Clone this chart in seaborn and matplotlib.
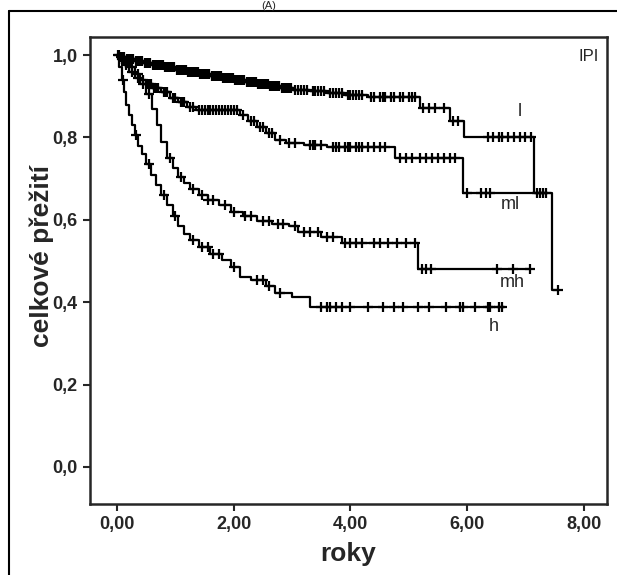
import numpy as np
import pandas as pd
import seaborn as sns
import matplotlib
matplotlib.use('Agg')
import matplotlib.pyplot as plt
from matplotlib.lines import Line2D

# skupiny IPI
groups = ['l', 'ml', 'mh', 'h']

# casy udalosti (roky) a preziti po kazde udalosti
l_times = [0.05, 0.15, 0.3, 0.45, 0.6, 0.8, 1.0, 1.2, 1.4, 1.6, 1.8, 2.0, 2.2, 2.4, 2.6, 2.8,
           3.0, 3.3, 3.6, 3.9, 4.3, 5.2, 5.7, 5.95, 7.15, 7.45]
l_surv = [0.995, 0.99, 0.985, 0.98, 0.975, 0.97, 0.965, 0.96, 0.955, 0.95, 0.945, 0.94, 0.935,
          0.93, 0.925, 0.92, 0.915, 0.912, 0.908, 0.904, 0.899, 0.871, 0.84, 0.80, 0.665, 0.43]
l_cens = [0.02, 0.06, 0.08, 0.1, 0.12, 0.17, 0.2, 0.22, 0.25, 0.27, 0.32, 0.35, 0.38, 0.4,
          0.43, 0.47, 0.5, 0.52, 0.55, 0.57, 0.62, 0.65, 0.68, 0.7, 0.72, 0.75, 0.78, 0.82,
          0.85, 0.88, 0.9, 0.93, 0.95, 0.98, 1.02, 1.05, 1.08, 1.1, 1.13, 1.15, 1.18, 1.22,
          1.25, 1.28, 1.3, 1.33, 1.35, 1.38, 1.42, 1.45, 1.48, 1.5, 1.53, 1.55, 1.58, 1.62,
          1.65, 1.68, 1.7, 1.73, 1.75, 1.78, 1.82, 1.85, 1.88, 1.9, 1.93, 1.95, 1.98, 2.02,
          2.05, 2.08, 2.1, 2.13, 2.15, 2.18, 2.22, 2.25, 2.28, 2.3, 2.33, 2.35, 2.38, 2.42,
          2.45, 2.48, 2.5, 2.53, 2.55, 2.58, 2.62, 2.65, 2.68, 2.7, 2.73, 2.75, 2.78, 2.82,
          2.85, 2.88, 2.9, 2.93, 2.95, 2.98, 3.05, 3.1, 3.15, 3.2, 3.25, 3.35, 3.4, 3.45,
          3.5, 3.55, 3.65, 3.7, 3.75, 3.8, 3.85, 3.95, 4.0, 4.05, 4.1, 4.15, 4.2, 4.35, 4.4,
          4.5, 4.55, 4.6, 4.7, 4.75, 4.85, 4.9, 5.0, 5.05, 5.1, 5.25, 5.35, 5.45, 5.6, 5.75,
          5.85, 6.35, 6.45, 6.55, 6.6, 6.7, 6.8, 6.9, 7.0, 7.1, 7.25, 7.35, 7.56]
l_end = 7.56

ml_times = [0.05, 0.1, 0.2, 0.3, 0.4, 0.5, 0.6, 0.75, 0.9, 1.05, 1.2, 1.35, 2.1, 2.25, 2.4,
            2.55, 2.7, 2.9, 3.2, 3.6, 4.77, 5.93]
ml_surv = [0.99, 0.98, 0.97, 0.955, 0.94, 0.93, 0.92, 0.91, 0.895, 0.885, 0.875, 0.867, 0.855,
           0.84, 0.825, 0.81, 0.795, 0.787, 0.782, 0.777, 0.75, 0.665]
ml_cens = [0.03, 0.08, 0.15, 0.25, 0.35, 0.45, 0.53, 0.55, 0.58, 0.63, 0.65, 0.68, 0.7, 0.8,
           0.83, 0.85, 0.95, 0.98, 1.0, 1.1, 1.13, 1.15, 1.25, 1.3, 1.4, 1.45, 1.5, 1.55, 1.6,
           1.65, 1.7, 1.75, 1.8, 1.85, 1.9, 1.95, 2.0, 2.05, 2.15, 2.3, 2.35, 2.45, 2.5, 2.6,
           2.65, 2.8, 2.95, 3.05, 3.3, 3.35, 3.4, 3.5, 3.7, 3.75, 3.8, 3.9, 3.95, 4.0, 4.1,
           4.15, 4.2, 4.3, 4.4, 4.5, 4.6, 4.85, 4.95, 5.05, 5.2, 5.3, 5.4, 5.5, 5.6, 5.7, 5.8,
           6.0, 6.23, 6.32, 6.4, 7.2, 7.3]
ml_end = 7.35

mh_times = [0.05, 0.12, 0.2, 0.3, 0.4, 0.5, 0.6, 0.68, 0.76, 0.85, 0.95, 1.05, 1.15, 1.25, 1.4,
            1.55, 1.75, 1.95, 2.15, 2.4, 2.65, 2.95, 3.1, 3.5, 3.85, 5.15]
mh_surv = [0.99, 0.975, 0.96, 0.945, 0.93, 0.905, 0.87, 0.83, 0.79, 0.75, 0.725, 0.705, 0.69,
           0.675, 0.66, 0.648, 0.635, 0.62, 0.61, 0.598, 0.59, 0.585, 0.57, 0.558, 0.544, 0.48]
mh_cens = [0.08, 0.15, 0.25, 0.35, 0.45, 0.55, 0.9, 1.1, 1.3, 1.45, 1.55, 1.65, 1.85, 2.0, 2.2,
           2.3, 2.5, 2.6, 2.75, 2.85, 3.05, 3.2, 3.3, 3.45, 3.6, 3.7, 3.9, 4.0, 4.1, 4.2, 4.4,
           4.5, 4.65, 4.8, 4.95, 5.1, 5.22, 5.3, 5.38, 6.52, 6.78, 7.08]
mh_end = 7.08

h_times = [0.04, 0.08, 0.12, 0.16, 0.2, 0.25, 0.3, 0.36, 0.42, 0.5, 0.58, 0.66, 0.75, 0.85,
           0.95, 1.05, 1.15, 1.25, 1.4, 1.6, 1.8, 1.95, 2.1, 2.3, 2.55, 2.7, 3.0, 3.3]
h_surv = [0.97, 0.94, 0.91, 0.88, 0.855, 0.83, 0.805, 0.78, 0.76, 0.735, 0.71, 0.685, 0.66,
          0.635, 0.61, 0.585, 0.565, 0.55, 0.535, 0.518, 0.502, 0.485, 0.462, 0.455, 0.44,
          0.422, 0.413, 0.388]
h_cens = [0.1, 0.33, 0.55, 0.8, 1.0, 1.3, 1.45, 1.55, 1.65, 1.75, 2.0, 2.4, 2.5, 2.6, 2.8,
          3.5, 3.6, 3.65, 3.75, 3.85, 4.0, 4.3, 4.55, 4.75, 4.9, 5.15, 5.35, 5.63, 5.88, 5.93,
          6.14, 6.35, 6.4, 6.54, 6.6]
h_end = 6.65

# popisky krivek (x, y v datech)
label_x = [6.91, 6.74, 6.78, 6.45]
label_y = [0.862, 0.636, 0.447, 0.342]

x_ticks = [0, 2, 4, 6, 8]
x_ticklabels = ['0,00', '2,00', '4,00', '6,00', '8,00']
y_ticks = [0.0, 0.2, 0.4, 0.6, 0.8, 1.0]
y_ticklabels = ['0,0', '0,2', '0,4', '0,6', '0,8', '1,0']

data = {
    'l': (l_times, l_surv, l_cens, l_end),
    'ml': (ml_times, ml_surv, ml_cens, ml_end),
    'mh': (mh_times, mh_surv, mh_cens, mh_end),
    'h': (h_times, h_surv, h_cens, h_end),
}

sns.set_style('ticks')
plt.rcParams['font.family'] = ['Liberation Sans', 'DejaVu Sans']

fig = plt.figure(figsize=(6.17, 5.75), dpi=100)
ax = fig.add_axes([0.146, 0.1235, 0.838, 0.8122])

for i, g in enumerate(groups):
    times, surv, cens, end = data[g]
    step_df = pd.DataFrame({'t': [0.0] + times + [end], 's': [1.0] + surv + [surv[-1]]})
    sns.lineplot(data=step_df, x='t', y='s', drawstyle='steps-post', estimator=None,
                 sort=False, color='black', linewidth=1.6, ax=ax)
    # hodnota preziti v case cenzury
    idx = np.searchsorted(np.array(times), np.array(cens), side='right')
    cens_s = np.array([1.0] + surv)[idx]
    cens_df = pd.DataFrame({'t': cens, 's': cens_s})
    sns.scatterplot(data=cens_df, x='t', y='s', marker='+', s=60, color='black',
                    linewidth=1.6, ax=ax, zorder=3)
    ax.text(label_x[i], label_y[i], g, fontsize=13, ha='center', va='center')

ax.text(0.985, 0.975, 'IPI', transform=ax.transAxes, ha='right', va='top', fontsize=12)

ax.set_xlim(-0.463, 8.40)
ax.set_ylim(-0.09, 1.044)
ax.set_xticks(x_ticks)
ax.set_xticklabels(x_ticklabels, fontweight='bold', fontsize=13)
ax.set_yticks(y_ticks)
ax.set_yticklabels(y_ticklabels, fontweight='bold', fontsize=13)
ax.tick_params(length=5, width=1.5, pad=4)
ax.set_xlabel('roky', fontsize=19, fontweight='bold', labelpad=6)
ax.set_ylabel('celkové přežití', fontsize=19, fontweight='bold')
ax.yaxis.set_label_coords(-0.07, 0.53)
for sp in ax.spines.values():
    sp.set_visible(True)
    sp.set_linewidth(1.8)

# vnejsi ramecek obrazku
fig.add_artist(Line2D([0.0146, 0.0146], [0.0, 0.981], transform=fig.transFigure,
                      color='black', linewidth=1.5))
fig.add_artist(Line2D([0.0146, 1.0], [0.981, 0.981], transform=fig.transFigure,
                      color='black', linewidth=1.5))
fig.text(0.435, 0.999, '(A)', ha='center', va='top', fontsize=8)

fig.savefig('out.png', dpi=100)
